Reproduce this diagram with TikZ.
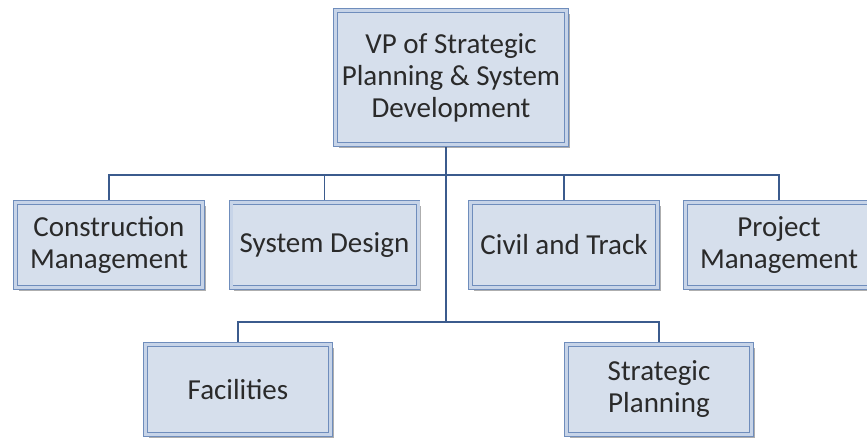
\documentclass[tikz,border=0pt]{standalone}
\usepackage{fontspec}
\setmainfont{Carlito}
\usetikzlibrary{shadows,backgrounds}

\definecolor{boxfill}{HTML}{D6DFEC}
\definecolor{boxband}{HTML}{C7D4E8}
\definecolor{boxline}{HTML}{6F8DBC}
\definecolor{connline}{HTML}{3B5B8D}
\definecolor{textcol}{HTML}{2A2A2A}

\tikzset{
  orgbox/.style={
    draw=boxline, line width=0.9pt,
    double=boxband, double distance=3pt,
    fill=boxfill, inner sep=0pt,
    align=center, text=textcol,
    font=\fontsize{29}{32}\selectfont,
    drop shadow={shadow xshift=3pt, shadow yshift=-3pt,
                 fill=black!70, opacity=0.45}
  },
  rowbox/.style={orgbox, minimum width=187pt, minimum height=85pt},
  lowbox/.style={orgbox, minimum width=185pt, minimum height=90pt},
  conn/.style={draw=connline, line width=1.6pt}
}

\begin{document}
\begin{tikzpicture}[x=1pt, y=-1pt]
  \useasboundingbox (0,0) rectangle (867,439);
  \clip (0,0) rectangle (867,439);

  % top of the chart
  \node[orgbox, minimum width=231pt, minimum height=134pt] (vp) at (451,77.5)
    {VP of Strategic\\Planning \& System\\Development};

  % first row of departments
  \node[rowbox] (cm) at (109,245)   {Construction\\Management};
  \node[rowbox] (sd) at (324.5,245) {System Design};
  \node[rowbox] (ct) at (564,245)   {Civil and Track};
  \node[rowbox] (pm) at (779,245)   {Project\\Management};

  % second row of departments
  \node[lowbox] (fa) at (238,389.5) {Facilities};
  \node[lowbox] (sp) at (659,389.5) {Strategic\\Planning};

  % bus lines
  \coordinate (bus1) at (446,175);
  \coordinate (bus2) at (446,322);

  \begin{scope}[on background layer]
    \draw[conn] (vp.south -| bus2) -- (bus2);
    \draw[conn] (cm.north) -- (cm.north |- bus1) -- (pm.north |- bus1) -- (pm.north);
    \draw[conn] (sd.north) -- (sd.north |- bus1);
    \draw[conn] (ct.north) -- (ct.north |- bus1);
    \draw[conn] (fa.north) -- (fa.north |- bus2) -- (sp.north |- bus2) -- (sp.north);
  \end{scope}
\end{tikzpicture}
\end{document}
